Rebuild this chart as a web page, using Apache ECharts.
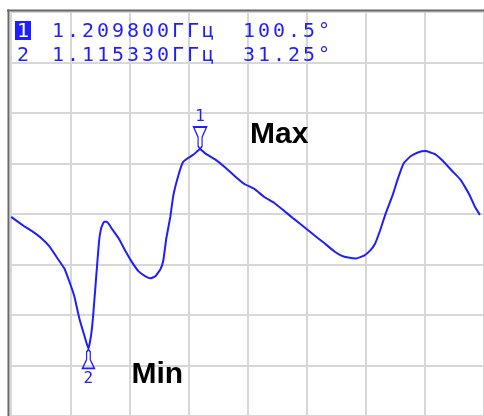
<!DOCTYPE html>
<html>
<head>
<meta charset="utf-8">
<script src="https://cdn.jsdelivr.net/npm/echarts@6/dist/echarts.min.js"></script>
<style>
html,body{margin:0;padding:0;background:#fff;}
#c{width:484px;height:416px;}
</style>
</head>
<body>
<div id="c"></div>
<script>
// ---- data ----
const freqGHz = [1.0500,1.0615,1.0682,1.0741,1.0825,1.0892,1.0950,1.0992,1.1034,1.1076,1.1118,1.11533,1.1176,1.1193,1.1218,1.1243,1.1260,1.1285,1.1310,1.1352,1.1410,1.1469,1.1519,1.1578,1.1636,1.1678,1.1720,1.1762,1.1787,1.1812,1.1846,1.1871,1.1913,1.1954,1.1996,1.2046,1.2098,1.2138,1.2222,1.2306,1.2390,1.2473,1.2557,1.2641,1.2724,1.2808,1.2892,1.2975,1.3059,1.3143,1.3235,1.3293,1.3352,1.3419,1.3486,1.3536,1.3578,1.3620,1.3670,1.3728,1.3770,1.3821,1.3879,1.3946,1.4005,1.4088,1.4155,1.4231,1.4297,1.4339,1.4381,1.4423,1.4465];
const phaseDeg = [77.0,73.6,71.9,70.1,66.7,62.6,59.1,54.6,49.5,41.9,36.0,31.25,36.0,42.6,55.7,68.4,72.9,75.3,75.3,72.9,69.5,65.0,61.5,58.1,56.4,55.7,56.4,58.8,61.9,69.5,77.0,84.3,91.2,96.0,97.4,98.7,100.5,99.1,97.0,94.3,91.2,88.4,86.7,83.9,81.9,79.1,76.3,73.6,70.8,68.1,65.0,63.6,62.9,62.6,63.6,65.3,67.7,72.2,78.4,84.6,90.1,95.6,98.0,99.4,99.8,98.7,96.3,92.9,90.1,87.4,84.3,80.5,77.7];
const markerIds = ['1','2'];
const markerFreqGHz = [1.2098, 1.11533];
const markerDeg = [100.5, 31.25];
const markerNames = ['Max','Min'];
const freqUnit = 'ГГц';
const degUnit = '°';

// ---- chart ----
const BLUE = '#1e1eff';
const chart = echarts.init(document.getElementById('c'), null, {renderer:'canvas'});
const pts = freqGHz.map((f,i)=>[f, phaseDeg[i]]);

const downPath = 'path://M0,0 L13,0 L8.5,10 L8.5,19 L6.5,22 L4.5,19 L4.5,10 Z';
const upPath = 'path://M6.5,0 L8.5,3 L8.5,12 L13,22 L0,22 L4.5,12 L4.5,3 Z';

const g = [];
// frame
g.push({type:'line', shape:{x1:7, y1:10.5, x2:484, y2:10.5}, style:{stroke:'#686868', lineWidth:2}, z:100});
g.push({type:'line', shape:{x1:8.5, y1:9.5, x2:8.5, y2:416}, style:{stroke:'#686868', lineWidth:2}, z:100});
// marker table
const rowY = [31.5, 55.5];
const mono = '20px "DejaVu Sans Mono"';
markerIds.forEach((id, r) => {
  if (r === 0) {
    g.push({type:'rect', shape:{x:15, y:21, width:16, height:19}, style:{fill:BLUE}, z:100});
  }
  g.push({type:'text', x:23, y:rowY[r], style:{text:id, font:mono, fill: r===0 ? '#fff' : BLUE, textAlign:'center', textVerticalAlign:'middle'}, z:101});
  const fs = markerFreqGHz[r].toFixed(6) + freqUnit;
  Array.from(fs).forEach((ch,i)=>{
    g.push({type:'text', x:58+15*i, y:rowY[r], style:{text:ch, font:mono, fill:BLUE, textAlign:'center', textVerticalAlign:'middle'}, z:101});
  });
  const vs = String(markerDeg[r]) + degUnit;
  Array.from(vs).forEach((ch,i)=>{
    g.push({type:'text', x:249+15*i, y:rowY[r], style:{text:ch, font:mono, fill:BLUE, textAlign:'center', textVerticalAlign:'middle'}, z:101});
  });
});
// annotations
g.push({type:'text', x:250, y:134.5, style:{text:markerNames[0], font:'bold 30px "Liberation Sans"', fill:'#000', textAlign:'left', textVerticalAlign:'middle'}, z:101});
g.push({type:'text', x:131.5, y:374.5, style:{text:markerNames[1], font:'bold 30px "Liberation Sans"', fill:'#000', textAlign:'left', textVerticalAlign:'middle'}, z:101});

const split = {show:true, lineStyle:{color:'#d7d7d7', width:2}};
chart.setOption({
  animation:false,
  backgroundColor:'#fff',
  grid:{left:11.2, top:12, right:-5, bottom:-2.4, containLabel:false},
  xAxis:{type:'value', min:1.05, max:1.45, interval:0.05,
    axisLine:{show:false}, axisTick:{show:false}, axisLabel:{show:false}, splitLine:split},
  yAxis:{type:'value', min:8, max:148, interval:17.5,
    axisLine:{show:false}, axisTick:{show:false}, axisLabel:{show:false}, splitLine:split},
  series:[{
    type:'line', data:pts, showSymbol:false, smooth:0.1,
    lineStyle:{color:BLUE, width:2}, itemStyle:{color:BLUE},
    markPoint:{
      silent:true,
      data: markerIds.map((id,r)=>({
        coord:[markerFreqGHz[r], markerDeg[r]],
        symbol: r===0 ? downPath : upPath,
        symbolSize: r===0 ? [13,22] : [12,19],
        symbolOffset: r===0 ? [0,-11] : [0,10],
        itemStyle:{color:'rgba(0,0,0,0)', borderColor:BLUE, borderWidth:1.5},
        label:{show:true, formatter:id, position: r===0 ? 'top' : 'bottom', distance:1,
          color:BLUE, fontFamily:'DejaVu Sans Mono', fontSize:16}
      }))
    }
  }],
  graphic:g
});
</script>
</body>
</html>
